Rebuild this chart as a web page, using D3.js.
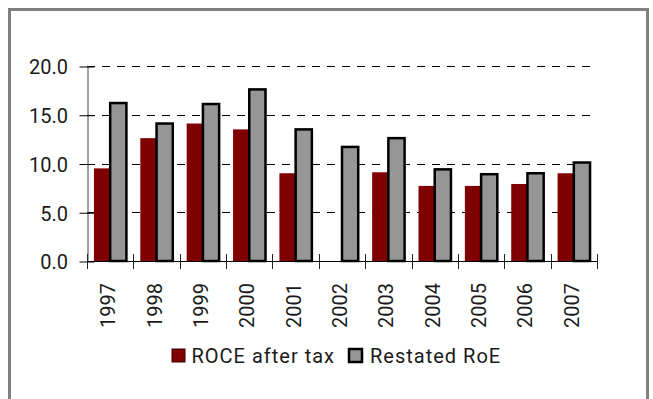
<!DOCTYPE html>
<html>
<head>
<meta charset="utf-8">
<script src="https://cdn.jsdelivr.net/npm/d3@7/dist/d3.min.js"></script>
<style>
  html, body { margin: 0; padding: 0; background: #fff; }
  svg { display: block; }
  text { font-family: Roboto, "Liberation Sans", Arial, sans-serif; font-weight: 400; fill: #1a1a1a; }
</style>
</head>
<body>
<svg id="chart" width="653" height="399"></svg>
<script>
// Return measures by year
const years = ["1997", "1998", "1999", "2000", "2001", "2002", "2003", "2004", "2005", "2006", "2007"];
const roceAfterTax = [9.5, 12.6, 14.1, 13.5, 9.0, null, 9.1, 7.7, 7.7, 7.9, 9.0];
const restatedRoE = [16.2, 14.1, 16.1, 17.6, 13.5, 11.7, 12.6, 9.4, 8.9, 9.0, 10.1];
const yTicks = [0, 5, 10, 15, 20];
const seriesNames = ["ROCE after tax", "Restated RoE"];

const svg = d3.select("#chart");
const plot = { left: 87, right: 597, top: 66, bottom: 261 };

// outer frame
svg.append("rect")
  .attr("x", 9.5).attr("y", 9.5)
  .attr("width", 638).attr("height", 430)
  .attr("fill", "none").attr("stroke", "#808080").attr("stroke-width", 3);

const x = d3.scaleBand().domain(years).range([plot.left, plot.right]).paddingInner(0).paddingOuter(0);
const y = d3.scaleLinear().domain([0, 20]).range([plot.bottom, plot.top]);

// dashed gridlines
svg.append("g").selectAll("line")
  .data(yTicks.filter(d => d > 0))
  .join("line")
  .attr("x1", plot.left).attr("x2", plot.right)
  .attr("y1", d => Math.round(y(d)) + 0.5).attr("y2", d => Math.round(y(d)) + 0.5)
  .attr("stroke", "#000").attr("stroke-width", 1)
  .attr("stroke-dasharray", "8,7");

// y axis with crossing ticks
const yAxis = d3.axisLeft(y).tickValues(yTicks).tickFormat(d3.format(".1f")).tickSize(0);
const gy = svg.append("g").attr("transform", `translate(${plot.left + 0.5},0)`).call(yAxis);
gy.attr("font-family", null).attr("font-size", null);
gy.select(".domain").attr("stroke", "#444");
gy.selectAll(".tick line").remove();
gy.selectAll(".tick").append("line")
  .attr("x1", -8).attr("x2", 7).attr("y1", 0.5).attr("y2", 0.5)
  .attr("stroke", "#000");
gy.selectAll(".tick text")
  .attr("x", -19.5).attr("dy", "7.8")
  .style("font-size", "20px")
  .attr("fill", "#1a1a1a");

// bars
const bw = x.bandwidth() * 0.35;
const groups = svg.append("g").selectAll("g")
  .data(years.map((yr, i) => ({ yr, roce: roceAfterTax[i], roe: restatedRoE[i] })))
  .join("g")
  .attr("transform", d => `translate(${x(d.yr) + x.bandwidth() / 2},0)`);

groups.filter(d => d.roce != null).append("rect")
  .attr("x", -bw).attr("width", bw)
  .attr("y", d => y(d.roce)).attr("height", d => y(0) - y(d.roce))
  .attr("fill", "#800000");

groups.append("rect")
  .attr("x", 0).attr("width", bw)
  .attr("y", d => y(d.roe)).attr("height", d => y(0) - y(d.roe))
  .attr("fill", "#969696").attr("stroke", "#000").attr("stroke-width", 2.5);

// x axis with crossing ticks at category boundaries
svg.append("line")
  .attr("x1", plot.left).attr("x2", plot.right)
  .attr("y1", plot.bottom + 0.5).attr("y2", plot.bottom + 0.5)
  .attr("stroke", "#000");
const bounds = years.map(yr => x(yr)).concat([plot.right]);
svg.append("g").selectAll("line")
  .data(bounds)
  .join("line")
  .attr("x1", d => Math.round(d) + 0.5).attr("x2", d => Math.round(d) + 0.5)
  .attr("y1", plot.bottom - 7).attr("y2", plot.bottom + 8)
  .attr("stroke", "#222");

svg.append("g").selectAll("text")
  .data(years)
  .join("text")
  .attr("transform", d => `translate(${x(d) + x.bandwidth() / 2 + 5},${plot.bottom + 22}) rotate(-90)`)
  .attr("text-anchor", "end")
  .style("font-size", "20px")
  .text(d => d);

// legend
const legend = svg.append("g");
const items = [
  { name: seriesNames[0], x: 172, fill: "#800000", stroke: "#3a0000", sw: 1, tx: 191.5 },
  { name: seriesNames[1], x: 349, fill: "#969696", stroke: "#000", sw: 2.5, tx: 370 }
];
items.forEach(it => {
  legend.append("rect")
    .attr("x", it.x).attr("y", 349)
    .attr("width", 13).attr("height", 13)
    .attr("fill", it.fill).attr("stroke", it.stroke).attr("stroke-width", it.sw);
  legend.append("text")
    .attr("x", it.tx).attr("y", 362.5)
    .style("font-size", "20px").style("letter-spacing", "1px")
    .text(it.name);
});
</script>
</body>
</html>
